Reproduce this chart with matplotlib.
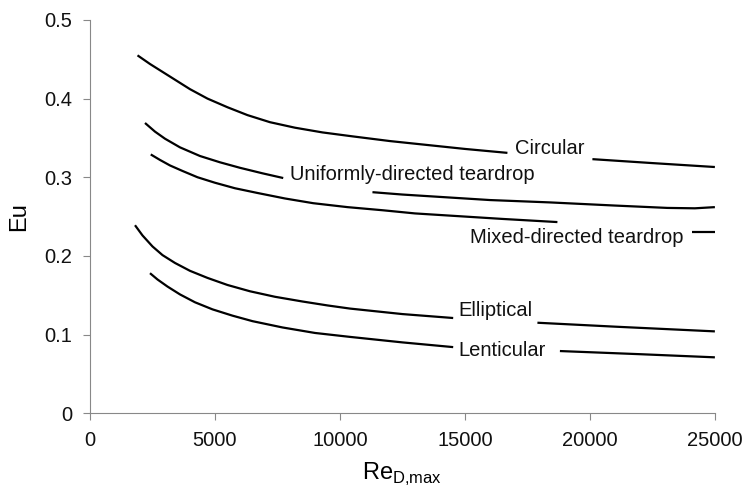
import matplotlib
matplotlib.use("Agg")
import matplotlib.pyplot as plt

plt.rcParams['font.family'] = ['Liberation Sans', 'DejaVu Sans']

# Data (Re_D,max, Eu) per curve; each curve is interrupted where its label sits
circ_x1 = [1900, 2400, 2900, 3400, 4000, 4700, 5500, 6300, 7200, 8200, 9300, 10500, 12000, 13500, 15000, 16700]
circ_y1 = [0.455, 0.444, 0.434, 0.424, 0.412, 0.400, 0.389, 0.379, 0.370, 0.363, 0.357, 0.352, 0.346, 0.341, 0.336, 0.331]
circ_x2 = [20100, 22500, 25000]
circ_y2 = [0.323, 0.318, 0.313]

unif_x1 = [2200, 2600, 3000, 3600, 4400, 5200, 6000, 6900, 7730]
unif_y1 = [0.369, 0.358, 0.349, 0.338, 0.327, 0.319, 0.312, 0.305, 0.299]
unif_x2 = [11300, 12500, 14000, 16000, 18400, 21000, 23100, 24200, 25000]
unif_y2 = [0.281, 0.278, 0.275, 0.271, 0.268, 0.264, 0.261, 0.2605, 0.262]

mix_x1 = [2430, 2800, 3200, 3700, 4300, 5000, 5800, 6700, 7800, 8930, 10300, 11720, 13000, 14500, 16500, 18700]
mix_y1 = [0.329, 0.322, 0.315, 0.308, 0.300, 0.293, 0.286, 0.280, 0.273, 0.267, 0.262, 0.258, 0.254, 0.251, 0.247, 0.243]
mix_x2 = [24100, 25000]
mix_y2 = [0.230, 0.230]

ell_x1 = [1800, 2100, 2500, 2900, 3400, 4000, 4700, 5500, 6400, 7400, 8500, 9500, 10400, 12500, 14530]
ell_y1 = [0.239, 0.226, 0.212, 0.201, 0.191, 0.181, 0.172, 0.163, 0.155, 0.148, 0.142, 0.137, 0.133, 0.126, 0.121]
ell_x2 = [17900, 21000, 25000]
ell_y2 = [0.115, 0.110, 0.104]

len_x1 = [2400, 2700, 3100, 3600, 4200, 4900, 5700, 6500, 7700, 9000, 10400, 12500, 14530]
len_y1 = [0.178, 0.170, 0.161, 0.151, 0.141, 0.132, 0.124, 0.117, 0.109, 0.102, 0.097, 0.090, 0.084]
len_x2 = [18800, 22000, 25000]
len_y2 = [0.079, 0.075, 0.071]

labels = ["Circular", "Uniformly-directed teardrop", "Mixed-directed teardrop", "Elliptical", "Lenticular"]
label_x = [17000, 8000, 15200, 14720, 14720]
label_y = [0.337, 0.303, 0.224, 0.130, 0.080]

xticks = [0, 5000, 10000, 15000, 20000, 25000]
yticks = [0, 0.1, 0.2, 0.3, 0.4, 0.5]
ytick_labels = ["0", "0.1", "0.2", "0.3", "0.4", "0.5"]

fig = plt.figure(figsize=(7.47, 4.99), dpi=100)
ax = fig.add_axes([0.1205, 0.172, 0.8365, 0.788])

segments = [(circ_x1, circ_y1), (circ_x2, circ_y2),
            (unif_x1, unif_y1), (unif_x2, unif_y2),
            (mix_x1, mix_y1), (mix_x2, mix_y2),
            (ell_x1, ell_y1), (ell_x2, ell_y2),
            (len_x1, len_y1), (len_x2, len_y2)]
for xs, ys in segments:
    ax.plot(xs, ys, color='black', lw=1.6, solid_capstyle='butt', solid_joinstyle='round')

for t, x, y in zip(labels, label_x, label_y):
    ax.text(x, y, t, fontsize=14.5, ha='left', va='center', color='#111111')

ax.set_xlim(0, 25000)
ax.set_ylim(0, 0.5)
ax.set_xticks(xticks)
ax.set_xticklabels([str(v) for v in xticks])
ax.set_yticks(yticks)
ax.set_yticklabels(ytick_labels)
ax.tick_params(direction='out', length=5, width=0.8, colors='#888888', labelcolor='#111111',
               labelsize=14.5, pad=8)
for s in ['top', 'right']:
    ax.spines[s].set_visible(False)
for s in ['left', 'bottom']:
    ax.spines[s].set_color('#888888')
    ax.spines[s].set_linewidth(0.8)

ax.set_ylabel("Eu", fontsize=17, labelpad=10)
ax.set_xlabel(r"Re$_{\mathregular{D{,}max}}$", fontsize=17, labelpad=8)

fig.savefig("out.png", dpi=100)
